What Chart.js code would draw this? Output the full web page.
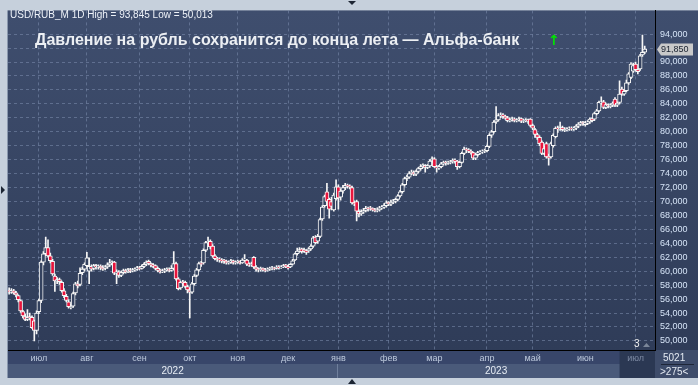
<!DOCTYPE html>
<html>
<head>
<meta charset="utf-8">
<script src="https://cdn.jsdelivr.net/npm/chart.js@4.4.1/dist/chart.umd.min.js"></script>
<style>
    html, body { margin: 0; padding: 0; background: #c6d0dc; }
    #wrap { position: relative; width: 698px; height: 385px; overflow: hidden; }
    #wrap canvas { position: absolute; left: 0; top: 0; }
    .t { position: absolute; white-space: nowrap; font-family: "Liberation Sans", Arial, sans-serif; }
    #hdr { left: 10px; top: 10px; font-size: 10px; line-height: 10px; color: #eef2f8; }
    #ttl { left: 35px; top: 32px; font-size: 16px; line-height: 16px; font-weight: bold; color: #eceff3; }
    #arr { left: 548px; top: 33px; font-size: 14px; line-height: 14px; font-weight: bold; color: #00e600; font-family: "DejaVu Sans", sans-serif; }
    #cnt { left: 634px; top: 339px; font-size: 10px; line-height: 10px; color: #f0f0f0; }
    #bars { left: 663px; top: 353px; font-size: 10px; line-height: 10px; color: #e4eaf2; }
    #range { left: 660px; top: 367px; font-size: 10px; line-height: 10px; color: #e4eaf2; }
</style>
</head>
<body>
<div id="wrap">
    <canvas id="chart" width="698" height="385"></canvas>
    <div class="t" id="hdr">USD/RUB_M 1D High = 93,845 Low = 50,013</div>
    <div class="t" id="ttl">Давление на рубль сохранится до конца лета — Альфа-банк</div>
    <div class="t" id="arr">↑</div>
    <div class="t" id="cnt">3</div>
    <div class="t" id="bars">5021</div>
    <div class="t" id="range">&gt;275&lt;</div>
</div>
<script>
'use strict';

// daily candles, mid June 2022 .. early July 2023
var open = [
    57.3, 57.0, 57.2, 56.9, 56.5, 55.8, 54.2, 53.5, 53.1, 53.5,
    53.4, 52.9, 51.5, 54.2, 55.8, 61.3, 62.5, 63.4, 62.2, 61.4,
    59.3, 58.6, 58.8, 58.4, 57.2, 56.4, 55.6, 54.8, 55.0, 56.9,
    58.2, 58.1, 59.8, 60.3, 60.8, 60.0, 60.7, 60.4, 60.8, 60.6,
    60.7, 60.5, 60.4, 60.6, 60.9, 61.2, 61.3, 59.7, 59.9, 59.4,
    59.8, 60.1, 59.9, 60.2, 60.0, 60.2, 60.3, 60.5, 60.4, 60.7,
    61.0, 61.4, 61.1, 60.9, 60.8, 60.4, 60.1, 59.9, 60.0, 60.2,
    60.3, 60.1, 60.4, 61.1, 58.9, 57.6, 58.4, 58.4, 57.8, 57.3,
    57.0, 58.2, 59.4, 60.2, 61.1, 61.2, 63.0, 64.1, 64.3, 63.6,
    62.2, 61.8, 61.7, 61.6, 61.6, 61.4, 61.2, 61.3, 61.5, 61.2,
    61.3, 61.4, 61.2, 61.6, 61.6, 61.0, 60.9, 62.0, 60.6, 60.3,
    60.2, 60.4, 60.2, 60.1, 60.3, 60.4, 60.5, 60.4, 60.6, 60.5,
    60.6, 60.9, 60.6, 60.6, 61.0, 61.6, 62.5, 62.9, 63.2, 63.1,
    62.9, 62.9, 63.2, 63.6, 64.9, 64.3, 65.0, 67.5, 69.4, 71.4,
    70.3, 70.0, 68.8, 70.4, 72.1, 70.6, 71.5, 72.0, 72.3, 72.2,
    72.0, 69.8, 70.0, 68.6, 68.2, 68.5, 68.7, 69.0, 69.1, 69.0,
    68.8, 68.7, 68.8, 69.1, 69.2, 69.4, 69.9, 69.6, 69.9, 70.0,
    70.3, 70.8, 71.4, 72.4, 73.3, 73.5, 74.0, 74.2, 73.9, 74.3,
    74.7, 75.0, 75.2, 74.9, 75.1, 75.8, 76.1, 75.0, 74.8, 75.0,
    75.4, 75.6, 75.5, 75.6, 75.7, 75.9, 75.8, 75.0, 75.6, 76.9,
    77.5, 77.4, 77.2, 77.0, 76.2, 76.7, 77.0, 77.1, 77.2, 77.3,
    77.9, 79.5, 80.0, 81.4, 81.7, 82.3, 82.4, 82.2, 82.0, 81.6,
    81.7, 81.8, 81.6, 81.7, 81.9, 81.5, 81.6, 81.7, 81.8, 80.9,
    80.3, 79.6, 79.2, 78.5, 76.9, 78.3, 76.5, 76.4, 78.0, 79.3,
    80.5, 80.4, 80.6, 80.2, 80.3, 80.4, 80.5, 80.4, 80.5, 80.8,
    81.1, 81.3, 81.0, 81.2, 81.4, 81.9, 81.8, 82.6, 83.0, 84.1,
    84.3, 83.5, 83.9, 83.6, 83.8, 84.7, 83.8, 84.2, 86.1, 85.4,
    85.9, 87.0, 87.8, 88.7, 89.7, 88.9, 89.0, 91.0, 91.4
];
var high = [
    57.6, 57.5, 57.4, 57.1, 56.6, 55.9, 54.4, 53.9, 54.5, 54.0,
    53.6, 53.0, 54.3, 56.0, 61.5, 62.8, 64.9, 64.5, 62.6, 61.7,
    59.6, 59.1, 59.0, 58.6, 57.5, 56.7, 55.9, 55.3, 57.0, 58.4,
    58.6, 60.5, 60.6, 61.2, 62.7, 61.9, 60.9, 61.0, 61.0, 60.9,
    60.9, 60.8, 60.8, 61.2, 61.7, 61.5, 61.4, 60.2, 60.1, 60.0,
    60.3, 60.3, 60.4, 60.4, 60.4, 60.5, 60.7, 60.7, 60.9, 61.2,
    61.5, 61.6, 61.2, 61.1, 60.9, 60.6, 60.3, 60.3, 60.4, 60.5,
    60.5, 60.8, 62.8, 61.3, 59.1, 58.6, 58.7, 58.6, 58.0, 57.6,
    58.4, 59.5, 60.4, 61.3, 61.4, 63.2, 64.3, 64.9, 64.5, 63.8,
    62.4, 62.0, 61.9, 61.8, 61.7, 61.6, 61.5, 61.7, 61.6, 61.5,
    61.6, 61.5, 61.8, 62.4, 61.7, 61.2, 61.3, 62.1, 60.8, 60.5,
    60.6, 60.5, 60.4, 60.5, 60.6, 60.7, 60.6, 60.8, 60.8, 60.8,
    61.0, 61.0, 60.8, 61.1, 61.7, 62.6, 63.3, 63.4, 63.3, 63.3,
    63.1, 63.4, 63.8, 65.0, 65.1, 65.3, 67.6, 69.4, 70.9, 72.6,
    70.5, 70.6, 71.2, 73.1, 72.4, 71.8, 72.3, 72.6, 72.5, 72.4,
    72.2, 70.1, 70.2, 68.8, 68.8, 69.0, 69.3, 69.2, 69.3, 69.1,
    69.0, 69.1, 69.3, 69.4, 69.7, 70.1, 70.0, 70.2, 70.3, 70.5,
    71.0, 71.6, 72.6, 73.5, 73.8, 74.3, 74.5, 74.4, 74.5, 74.9,
    75.3, 75.4, 75.3, 75.3, 76.0, 76.4, 76.3, 75.2, 75.2, 75.6,
    75.8, 75.8, 75.8, 75.9, 76.1, 76.1, 75.9, 75.8, 77.1, 77.8,
    77.7, 77.6, 77.4, 77.1, 76.9, 77.2, 77.3, 77.4, 77.5, 78.1,
    79.7, 80.2, 81.6, 83.6, 82.6, 82.7, 82.6, 82.4, 82.2, 82.0,
    82.1, 82.0, 81.9, 82.1, 82.0, 81.8, 81.9, 81.8, 81.9, 81.1,
    80.5, 79.8, 79.4, 78.7, 77.9, 78.5, 76.8, 78.5, 79.7, 80.7,
    80.8, 81.4, 80.8, 80.6, 80.6, 80.7, 80.7, 80.7, 81.0, 81.3,
    81.5, 81.5, 81.5, 81.6, 82.0, 82.0, 82.8, 83.2, 84.4, 85.0,
    84.5, 84.1, 84.0, 84.0, 84.3, 84.9, 84.3, 87.3, 86.4, 86.0,
    87.4, 88.5, 89.9, 89.8, 90.0, 89.0, 91.1, 93.845, 92.3
];
var low = [
    56.7, 56.8, 56.7, 56.3, 55.6, 54.1, 53.3, 52.9, 52.9, 53.0,
    51.8, 50.013, 51.0, 53.9, 55.5, 60.9, 62.2, 62.0, 61.2, 59.4,
    57.1, 58.2, 58.1, 57.0, 56.2, 55.6, 54.7, 54.6, 54.8, 56.6,
    57.6, 57.9, 59.5, 60.0, 60.6, 58.2, 60.0, 60.2, 60.3, 60.3,
    60.2, 60.1, 60.2, 60.4, 60.7, 60.9, 59.5, 58.2, 59.1, 59.2,
    59.6, 59.7, 59.8, 59.8, 59.9, 60.0, 60.1, 60.2, 60.3, 60.5,
    60.8, 60.9, 60.6, 60.5, 60.2, 59.9, 59.7, 59.8, 59.8, 60.0,
    59.9, 60.0, 60.2, 58.7, 57.3, 57.4, 58.0, 57.6, 56.9, 53.3,
    56.8, 58.0, 59.2, 60.0, 60.7, 61.0, 62.8, 63.8, 63.2, 62.0,
    61.6, 61.4, 61.3, 61.2, 61.1, 61.0, 61.0, 61.1, 61.0, 61.0,
    61.1, 61.0, 61.1, 61.4, 60.8, 60.7, 60.7, 60.4, 60.0, 59.9,
    60.0, 60.0, 59.9, 60.0, 60.1, 60.2, 60.2, 60.3, 60.3, 60.4,
    60.5, 60.5, 60.3, 60.5, 60.9, 61.5, 62.3, 62.7, 62.6, 62.7,
    62.4, 62.7, 63.0, 63.4, 63.9, 64.0, 64.8, 67.3, 69.2, 69.8,
    67.6, 68.8, 68.6, 70.2, 68.9, 70.2, 71.2, 71.7, 71.9, 71.8,
    69.6, 69.4, 67.2, 67.8, 68.0, 68.3, 68.5, 68.6, 68.7, 68.6,
    68.5, 68.5, 68.6, 68.9, 69.0, 69.2, 69.4, 69.4, 69.7, 69.8,
    70.1, 70.6, 71.2, 72.2, 73.0, 73.3, 73.8, 73.7, 73.7, 74.1,
    74.5, 74.8, 74.2, 74.7, 74.9, 75.6, 74.9, 74.2, 74.6, 74.8,
    75.2, 75.2, 75.3, 75.4, 75.5, 75.5, 74.6, 74.8, 75.5, 76.7,
    77.0, 77.0, 76.8, 76.0, 76.0, 76.5, 76.8, 76.9, 77.0, 77.1,
    77.7, 79.2, 79.8, 81.2, 81.5, 82.0, 81.9, 81.8, 81.4, 81.4,
    81.5, 81.4, 81.4, 81.5, 81.3, 81.3, 81.4, 81.2, 80.7, 80.3,
    79.2, 78.9, 78.0, 76.7, 76.7, 76.2, 75.2, 76.2, 77.8, 79.1,
    79.9, 80.2, 80.1, 80.0, 80.1, 80.2, 80.2, 80.2, 80.3, 80.6,
    80.9, 80.9, 80.8, 81.0, 81.2, 81.4, 81.6, 82.4, 82.8, 83.9,
    83.3, 83.3, 83.4, 83.4, 83.6, 83.6, 83.6, 84.0, 85.2, 85.2,
    85.7, 86.8, 87.6, 88.5, 88.7, 88.3, 88.8, 90.8, 91.2
];
var close = [
    57.0, 57.2, 56.9, 56.6, 55.9, 54.3, 53.6, 53.1, 53.4, 53.3,
    51.9, 51.5, 54.0, 55.8, 61.3, 62.5, 63.4, 62.2, 61.5, 59.6,
    58.6, 58.8, 58.5, 57.2, 56.5, 55.8, 54.9, 54.9, 56.8, 58.2,
    57.9, 59.7, 60.3, 61.0, 61.9, 60.7, 60.3, 60.8, 60.6, 60.7,
    60.5, 60.4, 60.6, 60.9, 61.2, 61.3, 59.7, 59.9, 59.4, 59.8,
    60.1, 59.9, 60.2, 60.0, 60.2, 60.3, 60.5, 60.4, 60.7, 61.0,
    61.3, 61.1, 60.9, 60.7, 60.4, 60.1, 59.9, 60.0, 60.2, 60.3,
    60.1, 60.4, 61.1, 58.9, 57.5, 58.4, 58.3, 57.8, 57.3, 57.0,
    58.2, 59.3, 60.2, 61.1, 61.0, 63.0, 64.1, 64.3, 63.5, 62.2,
    61.8, 61.7, 61.6, 61.5, 61.4, 61.2, 61.3, 61.5, 61.2, 61.3,
    61.4, 61.2, 61.6, 61.7, 61.0, 60.9, 61.1, 60.6, 60.3, 60.2,
    60.4, 60.2, 60.1, 60.3, 60.4, 60.5, 60.4, 60.6, 60.5, 60.6,
    60.8, 60.6, 60.5, 61.0, 61.5, 62.5, 62.9, 63.1, 62.8, 62.9,
    62.7, 63.2, 63.6, 64.8, 64.1, 65.0, 67.4, 69.2, 70.7, 70.0,
    68.9, 69.3, 70.9, 72.1, 70.5, 71.5, 72.0, 72.3, 72.2, 72.1,
    69.8, 69.7, 68.6, 68.2, 68.5, 68.7, 69.0, 68.9, 69.0, 68.8,
    68.7, 68.8, 69.1, 69.2, 69.4, 69.8, 69.6, 69.9, 70.0, 70.3,
    70.8, 71.4, 72.4, 73.3, 73.5, 74.0, 74.2, 73.9, 74.3, 74.7,
    75.0, 75.2, 74.9, 75.1, 75.8, 76.1, 75.0, 74.8, 75.0, 75.4,
    75.6, 75.5, 75.6, 75.7, 75.9, 75.8, 75.0, 75.6, 76.9, 77.5,
    77.4, 77.2, 77.0, 76.2, 76.7, 77.0, 77.1, 77.2, 77.3, 77.9,
    79.5, 80.0, 81.4, 81.7, 82.3, 82.4, 82.2, 82.0, 81.6, 81.7,
    81.8, 81.6, 81.7, 81.8, 81.5, 81.6, 81.7, 81.5, 80.9, 80.5,
    79.6, 79.2, 78.3, 76.9, 77.6, 76.4, 76.2, 78.3, 79.5, 80.5,
    80.4, 80.6, 80.3, 80.3, 80.4, 80.5, 80.4, 80.5, 80.8, 81.1,
    81.3, 81.2, 81.3, 81.4, 81.8, 81.6, 82.6, 83.0, 84.2, 84.3,
    83.5, 83.9, 83.7, 83.8, 84.1, 83.8, 84.1, 85.4, 85.4, 85.8,
    87.0, 88.3, 89.7, 89.5, 88.9, 88.6, 90.9, 91.4, 91.85
];

// month starts (candle index) and their names, years
var monthIdx = [13, 34, 57, 79, 100, 122, 144, 166, 186, 209, 229, 252, 274];
var monthNames = ['июл', 'авг', 'сен', 'окт', 'ноя', 'дек', 'янв', 'фев', 'мар', 'апр', 'май', 'июн', 'июл'];
var yearNames = ['2022', '2023'];
var yearStart = [0, 144];
var yTicks = [50, 52, 54, 56, 58, 60, 62, 64, 66, 68, 70, 72, 74, 76, 78, 80, 82, 84, 86, 88, 90, 92, 94];
var emptySlots = 4; // free space right of the last candle

var FONT = '"Liberation Sans", Arial, sans-serif';
var GRID = 'rgba(125, 142, 175, 0.55)';
var RED = '#e8143c';
var HOLLOW = '#34425f';

var slots = [];
for (var i = 0; i < close.length + emptySlots; i++) slots.push(i);

var wicks = [], bodies = [], bodyColors = [];
for (var j = 0; j < close.length; j++) {
    wicks.push([low[j], high[j]]);
    bodies.push([open[j], close[j]]);
    bodyColors.push(close[j] < open[j] ? RED : HOLLOW);
}

function fmt(v) {
    return v.toFixed(3).replace('.', ',');
}

var framePlugin = {
    id: 'frame',
    beforeDraw: function (chart) {
        var c = chart.ctx, a = chart.chartArea, W = chart.width, H = chart.height;
        var x = chart.scales.x;
        c.save();
        c.fillStyle = '#c6d0dc';
        c.fillRect(0, 0, W, H);

        var g = c.createLinearGradient(0, a.top, 0, a.bottom);
        g.addColorStop(0, '#3f4e6e');
        g.addColorStop(1, '#2f3c58');
        c.fillStyle = g;
        c.fillRect(a.left, a.top, W - a.left, a.bottom - a.top);

        // month row and year row under the plot
        c.fillStyle = '#38466a';
        c.fillRect(a.left, a.bottom, a.right - a.left, 14);
        c.fillStyle = '#4a5a7a';
        c.fillRect(a.left, a.bottom + 14, a.right - a.left, 14);

        // current month box
        var cur = x.getPixelForValue(monthIdx[monthIdx.length - 1]);
        c.fillStyle = '#2b3853';
        c.fillRect(cur - 16, a.bottom, a.right - cur + 16, 28);

        // corner box
        c.fillStyle = '#3e4c6a';
        c.fillRect(a.right, a.bottom, W - a.right, 28);

        c.fillStyle = '#8a98ae';
        c.fillRect(a.left - 1, a.top, 1, a.bottom + 28 - a.top);
        c.restore();
    },
    afterDraw: function (chart) {
        var c = chart.ctx, a = chart.chartArea, W = chart.width, H = chart.height;
        var x = chart.scales.x, y = chart.scales.y;
        c.save();

        // years
        var janPx = x.getPixelForValue(yearStart[1]) - x.width / slots.length / 2;
        c.fillStyle = '#6f7f9c';
        c.fillRect(Math.round(janPx), a.bottom + 14, 1, 14);
        c.font = '10px ' + FONT;
        c.fillStyle = '#e6ecf4';
        c.textAlign = 'center';
        c.textBaseline = 'middle';
        c.fillText(yearNames[0], (a.left + janPx) / 2, a.bottom + 21);
        c.fillText(yearNames[1], (janPx + a.right) / 2, a.bottom + 21);

        // corner box divider
        c.fillStyle = '#1e2638';
        c.fillRect(a.right + 6, a.bottom + 14, W - a.right - 10, 1);

        // last price tag
        var last = close[close.length - 1];
        var py = Math.round(y.getPixelForValue(last)) + 0.5;
        c.fillStyle = '#c9c9c9';
        c.beginPath();
        c.moveTo(a.right + 2, py);
        c.lineTo(a.right + 6, py - 6);
        c.lineTo(a.right + 38, py - 6);
        c.lineTo(a.right + 38, py + 6);
        c.lineTo(a.right + 6, py + 6);
        c.closePath();
        c.fill();
        c.fillStyle = '#18202e';
        c.textAlign = 'left';
        c.font = '9px ' + FONT;
        c.fillText(fmt(last), a.right + 6, py + 0.5);

        // little scroll markers round the frame
        var mid = 352;
        c.fillStyle = '#1c2533';
        c.beginPath();
        c.moveTo(mid - 4, 1); c.lineTo(mid + 4, 1); c.lineTo(mid, 5);
        c.fill();
        c.beginPath();
        c.moveTo(mid - 4, H - 1); c.lineTo(mid + 4, H - 1); c.lineTo(mid, H - 6);
        c.fill();
        c.beginPath();
        c.moveTo(1, 186); c.lineTo(5, 190); c.lineTo(1, 194);
        c.fill();
        c.fillStyle = '#7a8699';
        c.beginPath();
        c.moveTo(643, a.bottom - 3); c.lineTo(650, a.bottom - 3); c.lineTo(646.5, a.bottom - 7);
        c.fill();
        c.restore();
    }
};

var ctx = document.getElementById('chart').getContext('2d');
var chart = new Chart(ctx, {
    type: 'bar',
    data: {
        labels: slots,
        datasets: [{
            label: 'wick',
            data: wicks,
            backgroundColor: '#f6f6f6',
            barThickness: 1,
            grouped: false,
            order: 2
        }, {
            label: 'body',
            data: bodies,
            backgroundColor: bodyColors,
            borderColor: '#f6f6f6',
            borderWidth: 1,
            borderSkipped: false,
            barThickness: 4,
            grouped: false,
            order: 1
        }]
    },
    options: {
        responsive: false,
        animation: false,
        events: [],
        layout: { padding: { left: 8, top: 7, right: 0, bottom: 7 } },
        plugins: {
            legend: { display: false },
            tooltip: { enabled: false }
        },
        scales: {
            x: {
                type: 'category',
                offset: true,
                afterFit: function (s) { s.height = 28; },
                grid: {
                    offset: false,
                    drawTicks: false,
                    color: function (c) {
                        return monthIdx.indexOf(c.index) >= 0 ? GRID : 'rgba(0,0,0,0)';
                    }
                },
                border: { color: '#000000', width: 1, dash: [3, 3] },
                ticks: {
                    autoSkip: false,
                    maxRotation: 0,
                    minRotation: 0,
                    padding: 3,
                    font: { family: FONT, size: 9 },
                    color: function (c) {
                        return c.index === monthIdx[monthIdx.length - 1] ? '#7d8aa3' : '#bdc9dc';
                    },
                    callback: function (value, index) {
                        var k = monthIdx.indexOf(index);
                        return k >= 0 ? monthNames[k] : '';
                    }
                }
            },
            y: {
                position: 'right',
                min: 48.7,
                max: 97.4,
                afterFit: function (s) { s.width = 43; },
                afterBuildTicks: function (s) {
                    s.ticks = yTicks.map(function (v) { return { value: v }; });
                },
                grid: { color: GRID, drawTicks: false },
                border: { color: '#000000', width: 1, dash: [3, 3] },
                ticks: {
                    padding: 5,
                    color: '#d6e4f7',
                    font: { family: FONT, size: 9 },
                    callback: function (v) { return fmt(v); }
                }
            }
        }
    },
    plugins: [framePlugin]
});
</script>
</body>
</html>
